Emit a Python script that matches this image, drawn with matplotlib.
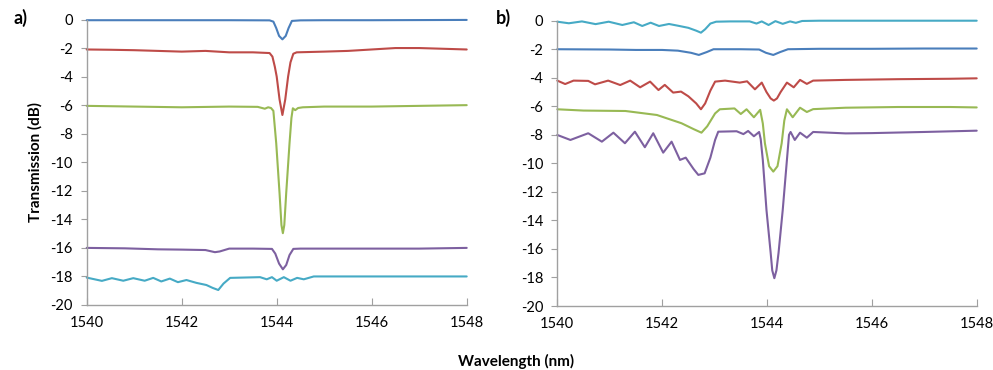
import matplotlib
matplotlib.use("Agg")
import matplotlib.pyplot as plt

plt.rcParams['font.family'] = ['Lato', 'DejaVu Sans']

# colours of the five traces (Excel default palette)
c_blue = '#4a7ebb'
c_red = '#be4b48'
c_green = '#98b954'
c_purple = '#7d60a0'
c_cyan = '#46aac5'

xticks = [1540, 1542, 1544, 1546, 1548]
yticks = [0, -2, -4, -6, -8, -10, -12, -14, -16, -18, -20]

# ---- panel a) ----
a_blue_wl = [1540, 1541, 1542, 1543, 1543.85, 1543.93, 1543.99, 1544.05, 1544.12, 1544.19,
             1544.25, 1544.32, 1544.5, 1545, 1546, 1547, 1548]
a_blue_db = [-0.05, -0.05, -0.05, -0.05, -0.06, -0.15, -0.6, -1.15, -1.39, -1.15,
             -0.6, -0.1, -0.06, -0.05, -0.05, -0.04, -0.03]

a_red_wl = [1540, 1540.5, 1541, 1541.5, 1542, 1542.5, 1543, 1543.5, 1543.85, 1543.91,
            1543.96, 1544.0, 1544.06, 1544.12, 1544.18, 1544.24, 1544.29, 1544.35, 1544.42,
            1545, 1545.5, 1546, 1546.5, 1547, 1547.5, 1548]
a_red_db = [-2.1, -2.12, -2.15, -2.2, -2.25, -2.2, -2.3, -2.3, -2.35, -2.6,
            -3.3, -4.0, -5.6, -6.69, -5.6, -4.0, -3.0, -2.4, -2.3,
            -2.25, -2.2, -2.1, -2.0, -2.0, -2.05, -2.1]

a_green_wl = [1540, 1541, 1542, 1543, 1543.6, 1543.75, 1543.82, 1543.88, 1543.93, 1543.99,
              1544.06, 1544.1, 1544.13, 1544.16, 1544.2, 1544.27, 1544.31, 1544.34,
              1544.39, 1544.45, 1544.55, 1545, 1546, 1547, 1548]
a_green_db = [-6.05, -6.1, -6.15, -6.1, -6.12, -6.25, -6.15, -6.2, -6.4, -8.67,
              -12.17, -14.4, -14.97, -14.4, -12.17, -8.67, -6.9, -6.22,
              -6.35, -6.2, -6.15, -6.1, -6.1, -6.05, -6.0]

a_purple_wl = [1540, 1540.8, 1541.5, 1542, 1542.5, 1542.7, 1542.8, 1543.0, 1543.5, 1543.9,
               1543.97, 1544.05, 1544.13, 1544.2, 1544.27, 1544.35, 1544.5, 1545, 1546, 1547, 1548]
a_purple_db = [-16.0, -16.03, -16.1, -16.12, -16.15, -16.3, -16.25, -16.05, -16.05, -16.07,
               -16.4, -17.1, -17.5, -17.2, -16.5, -16.07, -16.05, -16.05, -16.05, -16.05, -16.0]

a_cyan_wl = [1540, 1540.32, 1540.53, 1540.77, 1540.98, 1541.22, 1541.4, 1541.57, 1541.75,
             1541.92, 1542.1, 1542.31, 1542.52, 1542.65, 1542.77, 1542.88, 1543.02, 1543.65,
             1543.79, 1543.9, 1544.0, 1544.15, 1544.29, 1544.43, 1544.57, 1544.78, 1545.5,
             1546.5, 1547.5, 1548]
a_cyan_db = [-18.08, -18.31, -18.12, -18.3, -18.12, -18.3, -18.1, -18.35, -18.15,
             -18.4, -18.25, -18.45, -18.6, -18.8, -18.95, -18.5, -18.1, -18.05,
             -18.2, -18.05, -18.3, -18.05, -18.3, -18.1, -18.2, -18.0, -18.0,
             -18.0, -18.0, -18.0]

# ---- panel b) ----
b_cyan_wl = [1540, 1540.22, 1540.47, 1540.73, 1540.98, 1541.24, 1541.46, 1541.62, 1541.78,
             1541.94, 1542.13, 1542.3, 1542.5, 1542.65, 1542.74, 1542.82, 1542.92, 1543.03,
             1543.3, 1543.67, 1543.8, 1543.9, 1544.03, 1544.16, 1544.3, 1544.44, 1544.55,
             1544.67, 1545, 1546, 1547, 1548]
b_cyan_db = [-0.07, -0.18, -0.05, -0.24, -0.07, -0.3, -0.11, -0.37, -0.14,
             -0.37, -0.23, -0.35, -0.5, -0.7, -0.84, -0.6, -0.2, -0.07,
             -0.05, -0.05, -0.2, -0.05, -0.3, -0.03, -0.22, -0.05, -0.15,
             -0.02, 0.0, 0.0, 0.0, 0.0]

b_blue_wl = [1540, 1541, 1541.5, 1542, 1542.3, 1542.55, 1542.7, 1542.85, 1542.98, 1543.5,
             1543.85, 1543.98, 1544.12, 1544.25, 1544.4, 1545, 1546, 1547, 1548]
b_blue_db = [-2.0, -2.02, -2.05, -2.05, -2.1, -2.25, -2.4, -2.2, -2.0, -2.0,
             -2.02, -2.25, -2.4, -2.2, -2.0, -1.97, -1.97, -1.95, -1.95]

b_red_wl = [1540, 1540.15, 1540.31, 1540.59, 1540.72, 1540.97, 1541.2, 1541.39, 1541.58,
            1541.77, 1541.93, 1542.05, 1542.21, 1542.36, 1542.5, 1542.65, 1542.74, 1542.82,
            1542.92, 1543.01, 1543.2, 1543.48, 1543.62, 1543.77, 1543.9, 1543.99, 1544.07,
            1544.13, 1544.19, 1544.26, 1544.38, 1544.51, 1544.63, 1544.76, 1544.88, 1545.5,
            1546.5, 1547.5, 1548]
b_red_db = [-4.2, -4.44, -4.2, -4.22, -4.46, -4.2, -4.51, -4.2, -4.67,
            -4.27, -4.86, -4.5, -5.04, -4.97, -5.3, -5.8, -6.21, -5.8,
            -4.9, -4.27, -4.2, -4.34, -4.25, -4.81, -4.34, -5.0, -5.45,
            -5.6, -5.45, -5.0, -4.34, -4.67, -4.15, -4.43, -4.2, -4.15,
            -4.1, -4.07, -4.04]

b_green_wl = [1540, 1540.5, 1541.3, 1541.9, 1542.37, 1542.6, 1542.75, 1542.86, 1543.01,
              1543.1, 1543.38, 1543.5, 1543.61, 1543.75, 1543.87, 1543.92, 1543.96, 1544.04,
              1544.12, 1544.2, 1544.28, 1544.33, 1544.38, 1544.49, 1544.63, 1544.76, 1544.88,
              1545.5, 1546.5, 1547.5, 1548]
b_green_db = [-6.21, -6.3, -6.33, -6.61, -7.19, -7.6, -7.85, -7.4, -6.5,
              -6.21, -6.15, -6.54, -6.21, -6.77, -6.25, -7.2, -8.59, -10.2,
              -10.58, -10.2, -8.59, -7.0, -6.21, -6.77, -6.1, -6.4, -6.2,
              -6.1, -6.05, -6.05, -6.08]

b_purple_wl = [1540, 1540.25, 1540.59, 1540.85, 1541.07, 1541.29, 1541.48, 1541.67, 1541.83,
               1542.02, 1542.18, 1542.34, 1542.45, 1542.6, 1542.69, 1542.81, 1542.92, 1543.01,
               1543.07, 1543.42, 1543.55, 1543.64, 1543.75, 1543.85, 1543.88, 1543.92, 1543.99,
               1544.07, 1544.1, 1544.14, 1544.18, 1544.22, 1544.3, 1544.38, 1544.42, 1544.45,
               1544.53, 1544.63, 1544.76, 1544.88, 1545.5, 1546, 1547, 1548]
b_purple_db = [-8.01, -8.36, -7.89, -8.48, -7.85, -8.59, -7.78, -8.87, -7.89,
               -9.25, -8.48, -9.76, -9.6, -10.4, -10.81, -10.7, -9.6, -8.36,
               -7.78, -7.75, -7.95, -7.73, -8.1, -7.8, -8.3, -9.76, -13.27,
               -16.28, -17.5, -18.05, -17.5, -16.28, -13.27, -9.76, -8.0, -7.8,
               -8.36, -7.85, -8.2, -7.8, -7.9, -7.88, -7.8, -7.71]

W, H = 993, 370
fig = plt.figure(figsize=(W / 100, H / 100), dpi=100)
ax_a = fig.add_axes([86.7 / W, 1 - 305 / H, 380 / W, 285.5 / H])
ax_b = fig.add_axes([557.3 / W, 1 - 306 / H, 419.4 / W, 285.3 / H])

panels = [
    (ax_a, [(a_blue_wl, a_blue_db, c_blue), (a_red_wl, a_red_db, c_red),
            (a_green_wl, a_green_db, c_green), (a_purple_wl, a_purple_db, c_purple),
            (a_cyan_wl, a_cyan_db, c_cyan)]),
    (ax_b, [(b_cyan_wl, b_cyan_db, c_cyan), (b_blue_wl, b_blue_db, c_blue),
            (b_red_wl, b_red_db, c_red), (b_green_wl, b_green_db, c_green),
            (b_purple_wl, b_purple_db, c_purple)]),
]

for ax, curves in panels:
    for wl, db, col in curves:
        ax.plot(wl, db, color=col, lw=1.5, clip_on=False,
                solid_joinstyle='round', solid_capstyle='round')
    ax.set_xlim(1540, 1548)
    ax.set_ylim(-20, 0)
    ax.set_xticks(xticks)
    ax.set_yticks(yticks)
    ax.set_yticklabels([str(t) for t in yticks])
    for s in ['top', 'right']:
        ax.spines[s].set_visible(False)
    for s in ['left', 'bottom']:
        ax.spines[s].set_color('#a0a0a0')
        ax.spines[s].set_linewidth(1.0)
    ax.tick_params(axis='x', direction='in', length=5, color='#a0a0a0', labelsize=10.5, pad=8)
    ax.tick_params(axis='y', direction='out', length=4, color='#a0a0a0', labelsize=10.5, pad=6)

fig.text(14 / W, 1 - 18 / H, 'a)', fontsize=13, fontweight='bold', va='center')
fig.text(496 / W, 1 - 18 / H, 'b)', fontsize=13, fontweight='bold', va='center')
fig.text(35 / W, 1 - 162 / H, 'Transmission (dB)', rotation=90, fontsize=11,
         fontweight='bold', ha='center', va='center')
fig.text(516 / W, 1 - 361 / H, 'Wavelength (nm)', fontsize=11, fontweight='bold',
         ha='center', va='center')

fig.savefig('out.png', dpi=100)
